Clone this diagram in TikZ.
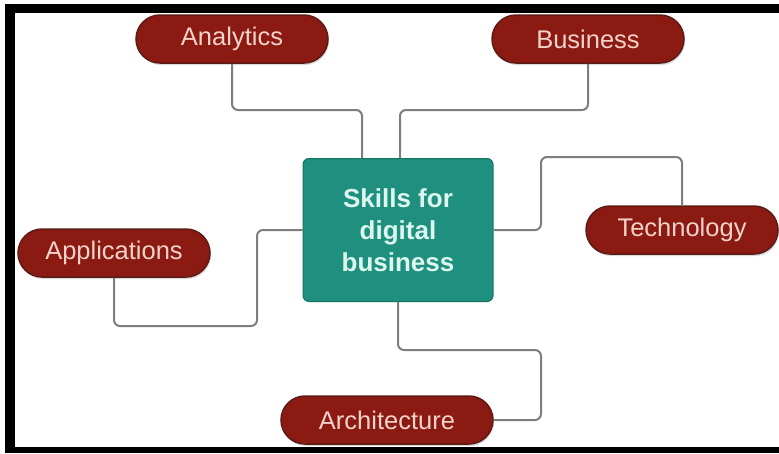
\documentclass[tikz,border=0pt]{standalone}
\usepackage{fontspec}
\setsansfont{Liberation Sans}
\usetikzlibrary{shapes.misc,shadows}
\definecolor{pillred}{HTML}{8A1A12}
\definecolor{pillrim}{HTML}{5E1A14}
\definecolor{pilltext}{HTML}{F4D2CA}
\definecolor{hubteal}{HTML}{1F907F}
\definecolor{hubrim}{HTML}{17735F}
\definecolor{hubtext}{HTML}{DDF6EE}
\definecolor{linkgray}{HTML}{7E7E7E}

\begin{document}
\begin{tikzpicture}[x=1pt,y=-1pt,font=\sffamily\fontsize{25.5}{32}\selectfont,skill/.style={rounded rectangle,fill=pillred,draw=pillrim,line width=1.5pt,text=pilltext,minimum width=192pt,minimum height=48pt,inner sep=0pt,drop shadow={opacity=.3,shadow xshift=1pt,shadow yshift=-2pt}},hub/.style={draw=hubrim,line width=1pt,fill=hubteal,rounded corners=6pt,text=hubtext,align=center,font=\sffamily\bfseries\fontsize{26}{32}\selectfont,minimum width=190pt,minimum height=143pt},link/.style={draw=linkgray,line width=2pt,rounded corners=6pt}]
\useasboundingbox (0,0) rectangle (779,453);
% frame on three sides
\fill[black] (5,4) rectangle (779,13);\fill[black] (5,4) rectangle (15,453);\fill[black] (5,447) rectangle (779,453);
\node[hub] (skills) at (398,230){Skills for\\digital\\business};
\node[skill] (analytics) at (232,39){Analytics};
\node[skill] (business) at (588,39){Business};
\node[skill] (technology) at (682,230){Technology};
\node[skill] (applications) at (114,253){Applications};
\node[skill,minimum width=212pt] (architecture) at (387,420){Architecture};
\draw[link] (analytics.south) |- (362,110) -- ([xshift=-36pt]skills.north);\draw[link] (business.south) |- (400,110) -- ([xshift=2pt]skills.north);\draw[link] (skills.east) -| (541,157) -| (technology.north);\draw[link] (skills.south) |- (541,350) |- (architecture.east);\draw[link] (skills.west) -| (257,326) -| (applications.south);
\end{tikzpicture}
\end{document}
